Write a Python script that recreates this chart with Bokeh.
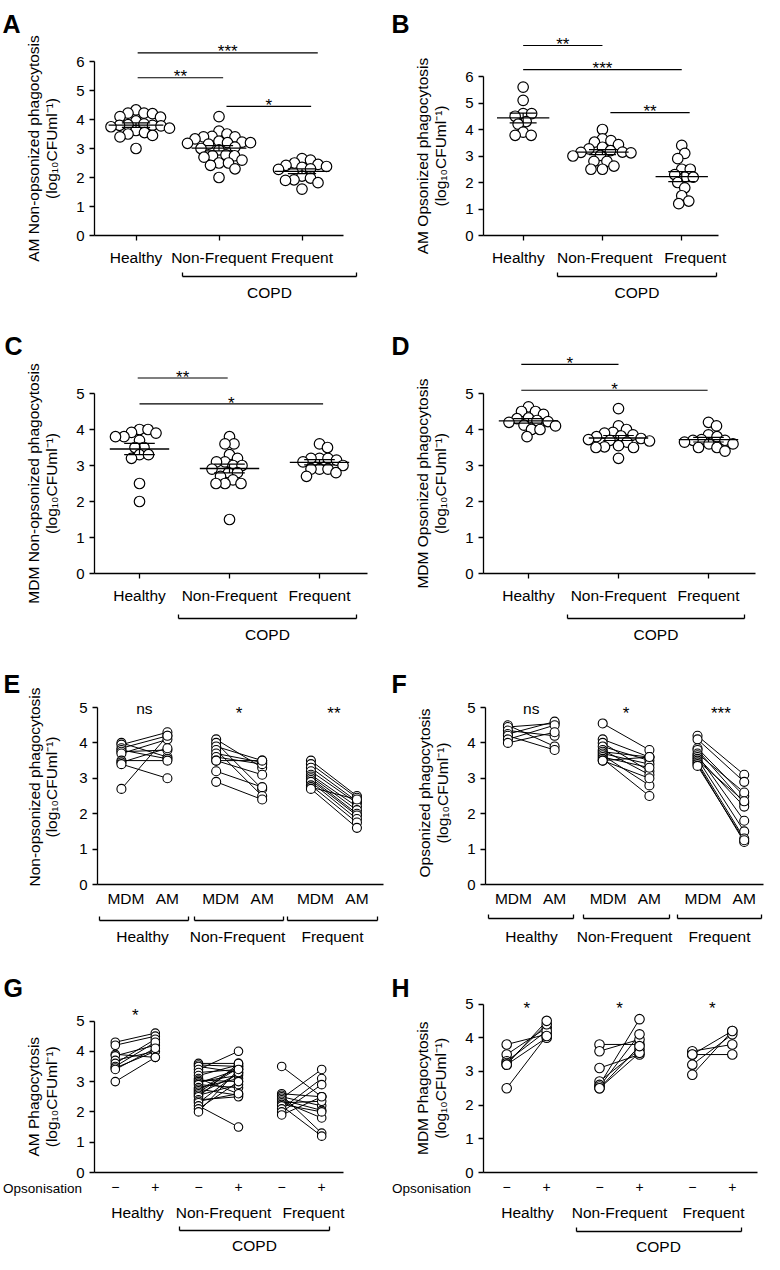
import numpy as np
from bokeh.plotting import figure
from bokeh.layouts import row, column
from bokeh.models import Range1d, FixedTicker, LinearAxis
from bokeh.embed import file_html
from bokeh.resources import INLINE
from bokeh.core.properties import value

FONT = "Liberation Sans"
INK = "#000000"
GROUPS = ["Healthy", "Non-Frequent", "Frequent"]
UNITS = "(log\u2081\u2080CFUml\u207b\u00b9)"

# ---------------- data (log10 CFU/ml) ----------------
# A: AM non-opsonized
a_healthy = [4.33, 4.22, 4.22, 4.2, 4.1, 4.08, 3.95, 3.85, 3.82, 3.8, 3.8, 3.78, 3.75, 3.7, 3.62, 3.55, 3.5, 3.45, 3.4, 3.0]
a_nonfreq = [4.1, 3.6, 3.5, 3.42, 3.4, 3.4, 3.33, 3.25, 3.22, 3.2, 3.2, 3.18, 3.15, 3.05, 3.0, 2.95, 2.78, 2.75, 2.75, 2.7, 2.6, 2.5, 2.5, 2.42, 2.3, 2.0]
a_freq = [2.65, 2.6, 2.5, 2.45, 2.42, 2.38, 2.35, 2.3, 2.28, 2.05, 1.98, 1.92, 1.9, 1.82, 1.6]
# B: AM opsonized
b_healthy = [5.6, 5.1, 4.6, 4.6, 4.5, 4.3, 4.2, 3.9, 3.78, 3.78]
b_nonfreq = [4.0, 3.65, 3.58, 3.52, 3.43, 3.33, 3.27, 3.2, 3.15, 3.14, 3.12, 3.02, 3.0, 2.8, 2.8, 2.62, 2.5, 2.5]
b_freq = [3.4, 3.1, 2.9, 2.5, 2.5, 2.3, 2.2, 2.2, 2.0, 1.8, 1.5, 1.3, 1.2]
# C: MDM non-opsonized
c_healthy = [4.0, 4.0, 3.92, 3.9, 3.8, 3.8, 3.7, 3.5, 3.5, 3.3, 3.3, 3.2, 2.5, 2.0]
c_nonfreq = [3.8, 3.6, 3.6, 3.3, 3.2, 3.1, 3.1, 3.0, 3.0, 2.9, 2.8, 2.8, 2.7, 2.6, 2.5, 2.5, 2.5, 1.5]
c_freq = [3.6, 3.5, 3.2, 3.2, 3.2, 3.15, 3.1, 3.0, 2.9, 2.9, 2.9, 2.8, 2.7]
# D: MDM opsonized
d_healthy = [4.63, 4.5, 4.5, 4.42, 4.32, 4.3, 4.25, 4.22, 4.2, 4.12, 4.1, 4.0, 4.0, 3.8]
d_nonfreq = [4.58, 4.1, 4.0, 3.92, 3.9, 3.85, 3.82, 3.8, 3.75, 3.72, 3.7, 3.68, 3.65, 3.55, 3.52, 3.5, 3.5, 3.2]
d_freq = [4.2, 4.1, 3.85, 3.8, 3.72, 3.7, 3.7, 3.65, 3.6, 3.6, 3.5, 3.5, 3.4]

# E: non-opsonized, paired MDM -> AM
e_h_mdm = [4.0, 3.95, 3.85, 3.8, 3.75, 3.7, 3.5, 3.45, 3.4, 2.7]
e_h_am = [3.6, 4.3, 4.2, 3.55, 3.8, 4.1, 3.5, 3.85, 3.0, 4.2]
e_nf_mdm = [4.1, 4.0, 3.9, 3.8, 3.7, 3.6, 3.5, 3.5, 3.2, 2.9]
e_nf_am = [3.3, 2.7, 3.5, 2.5, 3.45, 3.4, 3.5, 3.1, 2.75, 2.4]
e_f_mdm = [3.5, 3.4, 3.3, 3.2, 3.1, 3.05, 3.0, 2.95, 2.9, 2.8, 2.75, 2.7]
e_f_am = [2.5, 2.45, 2.35, 2.3, 2.2, 2.1, 2.0, 1.95, 1.85, 1.75, 2.4, 1.6]
# F: opsonized, paired MDM -> AM
f_h_mdm = [4.5, 4.45, 4.35, 4.25, 4.2, 4.1, 4.0]
f_h_am = [3.9, 4.55, 4.2, 4.6, 3.8, 4.5, 4.3]
f_nf_mdm = [4.55, 4.1, 4.0, 3.9, 3.8, 3.75, 3.7, 3.65, 3.6, 3.55, 3.5, 3.5]
f_nf_am = [3.8, 3.6, 3.2, 3.5, 3.1, 3.6, 3.4, 2.8, 3.3, 2.5, 3.0, 3.6]
f_f_mdm = [4.2, 4.1, 3.85, 3.8, 3.7, 3.65, 3.6, 3.55, 3.5, 3.45, 3.4, 3.35]
f_f_am = [3.1, 2.9, 2.5, 2.3, 2.6, 1.8, 2.2, 1.5, 2.35, 1.3, 1.2, 1.25]
# G: AM, opsonisation - -> +
g_h_neg = [4.3, 4.2, 3.9, 3.85, 3.7, 3.6, 3.5, 3.45, 3.4, 3.0]
g_h_pos = [4.6, 4.5, 3.8, 4.2, 4.0, 4.4, 4.3, 4.0, 4.1, 3.8]
g_nf_neg = [3.6, 3.55, 3.5, 3.4, 3.3, 3.2, 3.1, 3.05, 3.0, 2.95, 2.9, 2.8, 2.75, 2.7, 2.65, 2.6, 2.55, 2.5, 2.4, 2.35, 2.3, 2.2, 2.1, 2.0]
g_nf_pos = [3.6, 3.5, 3.3, 4.0, 3.4, 3.55, 2.6, 3.0, 3.2, 3.4, 2.8, 3.1, 2.55, 3.5, 3.45, 3.25, 2.9, 3.6, 2.5, 2.6, 3.3, 1.5, 3.0, 3.4]
g_f_neg = [3.5, 2.6, 2.55, 2.5, 2.45, 2.4, 2.35, 2.3, 2.25, 2.2, 2.1, 2.0, 1.9]
g_f_pos = [2.5, 2.5, 1.3, 2.2, 3.4, 2.05, 1.8, 2.35, 2.0, 1.2, 3.1, 2.9, 2.5]
# H: MDM, opsonisation - -> +
h_h_neg = [3.8, 3.5, 3.3, 3.25, 3.2, 3.2, 2.5]
h_h_pos = [4.1, 4.3, 4.2, 4.4, 4.5, 4.0, 4.05]
h_nf_neg = [3.8, 3.6, 3.1, 2.7, 2.6, 2.55, 2.5, 2.5]
h_nf_pos = [3.8, 3.95, 3.5, 3.65, 4.55, 4.1, 3.55, 3.75]
h_f_neg = [3.6, 3.5, 3.5, 3.2, 2.9]
h_f_pos = [3.8, 4.2, 3.5, 4.1, 4.2]

# significance bars for A-D: (label, x_from, x_to, y_level)
sig_a = [("***", 0.02, 2.19, 6.30), ("**", 0.02, 1.05, 5.44), ("*", 1.09, 2.11, 4.45)]
sig_b = [("**", 0.0, 1.0, 7.17), ("***", 0.0, 2.0, 6.26), ("**", 1.1, 2.1, 4.64)]
sig_c = [("**", -0.02, 0.98, 5.43), ("*", 0.0, 2.04, 4.71)]
sig_d = [("*", -0.08, 1.0, 5.81), ("*", -0.08, 1.99, 5.09)]
# significance labels for paired panels (one per group, "" = none)
sig_e = ["ns", "*", "**"]
sig_f = ["ns", "*", "***"]
sig_g = ["*", "", ""]
sig_h = ["*", "*", "*"]

# ---------------- layout geometry ----------------
# cx, cw, cy, ch: panel box on the page; dx, dy: shift from reference pixel coords
# all other numbers are reference pixel coords
GEO = {
    "A": dict(cx=0, cw=384, cy=0, ch=303, dx=0, dy=0,
              ax=94, right=343, y0=235, unit=29.0, xmin=-0.5, ppu=83.0),
    "B": dict(cx=384, cw=380, cy=0, ch=303, dx=-6, dy=0,
              ax=489, right=724, y0=235, unit=26.5, xmin=-0.5, ppu=79.3),
    "C": dict(cx=0, cw=384, cy=303, ch=342, dx=0, dy=-5,
              ax=94, right=367, y0=578, unit=36.0, xmin=-0.5, ppu=90.0),
    "D": dict(cx=384, cw=380, cy=303, ch=342, dx=-6, dy=-5,
              ax=489, right=761, y0=578, unit=36.0, xmin=-0.5, ppu=90.0),
    "E": dict(cx=0, cw=384, cy=645, ch=305, dx=0, dy=-10,
              ax=97, right=383, y0=894, unit=35.4, xmin=-0.52, ppu=46.0),
    "F": dict(cx=384, cw=380, cy=645, ch=305, dx=-6, dy=-10,
              ax=491, right=769, y0=894, unit=35.4, xmin=-0.48, ppu=46.7),
    "G": dict(cx=0, cw=384, cy=950, ch=304, dx=0, dy=-15,
              ax=94, right=343, y0=1187, unit=30.3, xmin=-0.52, ppu=40.0),
    "H": dict(cx=384, cw=380, cy=950, ch=304, dx=-6, dy=-15,
              ax=489, right=763, y0=1187, unit=33.7, xmin=-0.58, ppu=40.0),
}


def px2x(g, px):
    return g["xmin"] + (px - g["ax"]) / g["ppu"]


def px2y(g, py):
    return (g["y0"] - py) / g["unit"]


def x2px(g, x):
    return g["ax"] + (x - g["xmin"]) * g["ppu"]


def y2px(g, y):
    return g["y0"] - y * g["unit"]


def style_axis(ax):
    ax.axis_line_width = 1.3
    ax.axis_line_color = INK
    ax.major_tick_line_width = 1.3
    ax.major_tick_line_color = INK
    ax.major_tick_in = 0
    ax.minor_tick_line_color = None
    ax.major_label_text_font = FONT
    ax.major_label_text_color = INK


def txt(p, g, pxs, pys, texts, size="15.5px", align="center", baseline="middle",
        bold=False, angle=0.0):
    p.text(x=[px2x(g, v) for v in pxs], y=[px2y(g, v) for v in pys], text=list(texts),
           angle=angle, text_font=value(FONT), text_font_size=size, text_align=align,
           text_baseline=baseline, text_color=INK,
           text_font_style="bold" if bold else "normal")


def seg_px(p, g, segs, width=1.3):
    p.segment(x0=[px2x(g, s[0]) for s in segs], y0=[px2y(g, s[1]) for s in segs],
              x1=[px2x(g, s[2]) for s in segs], y1=[px2y(g, s[3]) for s in segs],
              line_color=INK, line_width=width)


def bracket(p, g, px0, px1, py, tick=4):
    seg_px(p, g, [(px0, py, px1, py), (px0, py, px0, py - tick), (px1, py, px1, py - tick)])


def base_fig(g, ymax_tick, ylabel, letter, letter_pos, title_dx=(-61.5, -43.5), title_dy=0):
    left = g["cx"] - g["dx"]
    top = g["cy"] - g["dy"]
    p = figure(frame_width=g["cw"], frame_height=g["ch"],
               x_range=Range1d(px2x(g, left), px2x(g, left + g["cw"])),
               y_range=Range1d(px2y(g, top + g["ch"]), px2y(g, top)),
               min_border=0, min_border_left=0, min_border_right=0,
               min_border_top=0, min_border_bottom=0,
               output_backend="svg", toolbar_location=None, tools="")
    p.outline_line_color = None
    p.xgrid.visible = False
    p.ygrid.visible = False
    p.background_fill_color = "white"
    p.border_fill_color = "white"
    ya = p.yaxis[0]
    style_axis(ya)
    ya.fixed_location = g["xmin"]
    ya.ticker = FixedTicker(ticks=list(range(ymax_tick + 1)))
    ya.bounds = (0, ymax_tick)
    ya.major_tick_out = 5
    ya.major_label_text_font_size = "15px"
    ya.major_label_standoff = 5
    xa = p.xaxis[0]
    style_axis(xa)
    xa.fixed_location = 0
    xa.bounds = (g["xmin"], px2x(g, g["right"]))
    # y-axis title (two lines, rotated)
    cyy = g["y0"] - ymax_tick * g["unit"] / 2 + title_dy
    txt(p, g, [g["ax"] + title_dx[0], g["ax"] + title_dx[1]], [cyy, cyy], [ylabel, UNITS],
        angle=np.pi / 2)
    # panel letter
    txt(p, g, [letter_pos[0]], [letter_pos[1]], [letter], size="25px", align="left",
        baseline="alphabetic", bold=True)
    return p


def sig_text(p, g, x, center_py, text, size=17):
    base = center_py + (0.27 if text == "ns" else 0.57) * size
    fs = "15.5px" if text == "ns" else f"{size}px"
    p.text(x=[x], y=[px2y(g, base)], text=[text], text_font=value(FONT), text_font_size=fs,
           text_align="center", text_baseline="alphabetic", text_color=INK)


def swarm_offsets(vals, ypu, xpu, min_dist):
    vals = np.asarray(vals, float)
    order = np.argsort(-vals, kind="stable")
    placed = []
    offs = np.zeros(len(vals))
    cands = [0.0]
    for j in range(1, 400):
        cands += [0.5 * j, -0.5 * j]
    for i in order:
        yp = vals[i] * ypu
        for c in cands:
            if all((c - qx) ** 2 + (yp - qy) ** 2 >= min_dist ** 2 for qx, qy in placed):
                break
        placed.append((c, yp))
        offs[i] = c / xpu
    return offs


def scatter_panel(key, letter, letter_pos, ylabel, groups, sigs, copd_px, copd_y, ymax_tick,
                  label_pos=None):
    g = GEO[key]
    p = base_fig(g, ymax_tick, ylabel, letter, letter_pos)
    xa = p.xaxis[0]
    xa.ticker = FixedTicker(ticks=[0, 1, 2])
    xa.major_tick_out = 5
    xa.major_label_standoff = 8
    xa.major_label_text_font_size = "15.5px"
    if label_pos is None:
        xa.major_label_overrides = {0: GROUPS[0], 1: GROUPS[1], 2: GROUPS[2]}
    else:
        xa.major_label_overrides = {0: "", 1: "", 2: ""}
        la = LinearAxis(ticker=FixedTicker(ticks=label_pos),
                        major_label_overrides={t: n for t, n in zip(label_pos, GROUPS)})
        style_axis(la)
        la.fixed_location = 0
        la.axis_line_color = None
        la.major_tick_line_color = None
        la.major_tick_out = 5
        la.major_label_standoff = 8
        la.major_label_text_font_size = "15.5px"
        p.add_layout(la, "below")
    d = 10.5
    for i, vals in enumerate(groups):
        offs = swarm_offsets(vals, g["unit"], g["ppu"], d * 0.8)
        p.scatter(x=list(i + offs), y=vals, size=d, marker="circle", fill_color="white",
                  line_color=INK, line_width=1.2)
        arr = np.asarray(vals, float)
        m = arr.mean()
        s = arr.std(ddof=1) / np.sqrt(len(arr))
        p.segment(x0=[i - 0.33], y0=[m], x1=[i + 0.33], y1=[m], line_color=INK, line_width=1.3)
        p.segment(x0=[i - 0.17, i - 0.17, i], y0=[m + s, m - s, m - s],
                  x1=[i + 0.17, i + 0.17, i], y1=[m + s, m - s, m + s],
                  line_color=INK, line_width=1.2)
    for lab, x0, x1, yl in sigs:
        p.segment(x0=[x0], y0=[yl], x1=[x1], y1=[yl], line_color=INK, line_width=1.2)
        sig_text(p, g, (x0 + x1) / 2, y2px(g, yl) - 10.5, lab)
    bracket(p, g, copd_px[0], copd_px[1], copd_y)
    txt(p, g, [(copd_px[0] + copd_px[1]) / 2], [copd_y + 16], ["COPD"])
    return p, g


def paired_panel(key, letter, letter_pos, ylabel, pairs, step, labels2, sigs, sig_y, d,
                 tick_size, standoff, first_shift=0.0, title_dx=(-61.5, -43.5), title_dy=0):
    g = GEO[key]
    p = base_fig(g, 5, ylabel, letter, letter_pos, title_dx, title_dy)
    xa = p.xaxis[0]
    ticks = [round(gi * step + k + (first_shift / g["ppu"] if k == 0 else 0.0), 4)
             for gi in range(3) for k in (0, 1)]
    xa.ticker = FixedTicker(ticks=ticks)
    xa.major_label_overrides = {t: labels2[j % 2] for j, t in enumerate(ticks)}
    xa.major_tick_out = 0
    xa.major_label_standoff = standoff
    xa.major_label_text_font_size = tick_size
    for gi, (a, b) in enumerate(pairs):
        x0 = gi * step
        x1 = gi * step + 1
        n = len(a)
        p.segment(x0=[x0] * n, y0=a, x1=[x1] * n, y1=b, line_color=INK, line_width=1.0)
        p.scatter(x=[x0] * n + [x1] * n, y=list(a) + list(b), size=d, marker="circle",
                  fill_color="white", line_color=INK, line_width=1.1)
        if sigs[gi]:
            sig_text(p, g, x0 + 0.5, sig_y, sigs[gi])
    return p, g


# ---------------- build panels ----------------
pA, gA = scatter_panel("A", "A", (2, 23), "AM Non-opsonized phagocytosis",
                       [a_healthy, a_nonfreq, a_freq], sig_a, (182, 356), 276, 6)
pB, gB = scatter_panel("B", "B", (397, 23), "AM Opsonized phagocytosis",
                       [b_healthy, b_nonfreq, b_freq], sig_b, (563, 722), 276, 6,
                       label_pos=[-0.06, 1.03, 2.17])
pC, gC = scatter_panel("C", "C", (4, 350), "MDM Non-opsonized phagocytosis",
                       [c_healthy, c_nonfreq, c_freq], sig_c, (178, 356), 623, 5)
pD, gD = scatter_panel("D", "D", (397, 350), "MDM Opsonized phagocytosis",
                       [d_healthy, d_nonfreq, d_freq], sig_d, (573, 750), 623, 5)

# E
pE, gE = paired_panel("E", "E", (3, 693), "Non-opsonized phagocytosis",
                      [(e_h_mdm, e_h_am), (e_nf_mdm, e_nf_am), (e_f_mdm, e_f_am)],
                      2.06, ["MDM", "AM"], sig_e, 713, 9, "15.5px", 5, first_shift=4.5,
                      title_dx=(-63.5, -46.5), title_dy=-9)
for x0b, x1b in [(99, 188), (194, 283), (287, 377)]:
    bracket(pE, gE, x0b, x1b, 930)
txt(pE, gE, [142, 237, 332], [946] * 3, GROUPS)

# F
pF, gF = paired_panel("F", "F", (397, 693), "Opsonized phagocytosis",
                      [(f_h_mdm, f_h_am), (f_nf_mdm, f_nf_am), (f_f_mdm, f_f_am)],
                      2.03, ["MDM", "AM"], sig_f, 713, 9, "15.5px", 5, first_shift=5.5,
                      title_dy=-3)
for x0b, x1b in [(494, 579), (589, 675), (683, 767)]:
    bracket(pF, gF, x0b, x1b, 928)
txt(pF, gF, [537, 630, 725], [946] * 3, GROUPS)

# G
pG, gG = paired_panel("G", "G", (3, 1002), "AM Phagocytosis",
                      [(g_h_neg, g_h_pos), (g_nf_neg, g_nf_pos), (g_f_neg, g_f_pos)],
                      2.08, ["\u2212", "+"], sig_g, 1020, 8.5, "14px", 9)
txt(pG, gG, [42], [1203], ["Opsonisation"], size="13.5px")
txt(pG, gG, [137, 223, 313], [1227] * 3, GROUPS)
bracket(pG, gG, 179, 329, 1245)
txt(pG, gG, [254], [1260], ["COPD"])

# H
pH, gH = paired_panel("H", "H", (397, 1002), "MDM Phagocytosis",
                      [(h_h_neg, h_h_pos), (h_nf_neg, h_nf_pos), (h_f_neg, h_f_pos)],
                      2.32, ["\u2212", "+"], sig_h, 1013, 9.5, "14px", 9)
txt(pH, gH, [437], [1203], ["Opsonisation"], size="13.5px")
txt(pH, gH, [533, 625, 719], [1227] * 3, GROUPS)
bracket(pH, gH, 582, 747, 1246)
txt(pH, gH, [664], [1261], ["COPD"])

layout = column(row(pA, pB), row(pC, pD), row(pE, pF), row(pG, pH))

open("out.html", "w").write(file_html(layout, INLINE))
